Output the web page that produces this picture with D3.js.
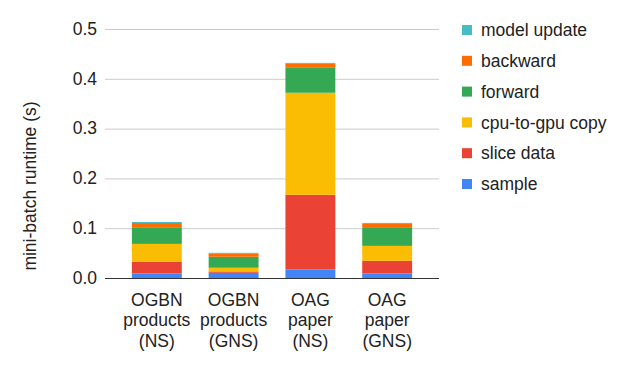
<!DOCTYPE html>
<html><head><meta charset="utf-8">
<script src="https://cdn.jsdelivr.net/npm/d3@7"></script>
<style>body{margin:0;background:#fff}svg{display:block;font-family:"Liberation Sans",Arial,sans-serif}</style>
</head><body><svg id="c" width="629" height="371"></svg>
<script>
const categories = [["OGBN","products","(NS)"],["OGBN","products","(GNS)"],["OAG","paper","(NS)"],["OAG","paper","(GNS)"]];
const seriesNames = ["sample","slice data","cpu-to-gpu copy","forward","backward","model update"];
const seriesColors = ["#4285F4","#EA4335","#FBBC04","#34A853","#FF6D01","#46BDC6"];
const sample      = [0.009, 0.0105, 0.017, 0.009];
const sliceData   = [0.0235, 0.0027, 0.150, 0.0255];
const cpuToGpu    = [0.036, 0.0074, 0.205, 0.030];
const forward     = [0.0334, 0.022, 0.050, 0.0375];
const backward    = [0.0085, 0.006, 0.008, 0.0066];
const modelUpdate = [0.002, 0.002, 0.002, 0.002];
const yTicks = [0, 0.1, 0.2, 0.3, 0.4, 0.5];

(function(){
const seriesValues = [sample, sliceData, cpuToGpu, forward, backward, modelUpdate];
const rows = categories.map((c,i)=>{const r={key:i}; seriesNames.forEach((s,j)=>r[s]=seriesValues[j][i]); return r;});
const stack = d3.stack().keys(seriesNames)(rows);

const svg = d3.select("#c");
const pL=105,pR=439,pT=29,pB=278;
const x = d3.scaleBand().domain(categories.map((c,i)=>i)).range([pL,pR]).paddingInner(0.35).paddingOuter(0.35);
const y = d3.scaleLinear().domain([0,0.5]).range([pB,pT]);
const fs = 17.5;

const yAxis = d3.axisLeft(y).tickValues(yTicks).tickFormat(d3.format(".1f")).tickSize(-(pR-pL)).tickPadding(8);
const ga = svg.append("g").attr("transform",`translate(${pL},0)`).call(yAxis);
ga.select(".domain").remove();
ga.selectAll(".tick line").attr("stroke",d=>d===0?"#333":"#ccc").attr("stroke-width",1);
ga.selectAll(".tick text").attr("font-size",fs).attr("fill","#222").attr("font-family","Liberation Sans, Arial, sans-serif").attr("dy","0.3em").attr("x",-8);

svg.append("g").selectAll("g").data(stack).join("g").attr("fill",(d,i)=>seriesColors[i])
  .selectAll("rect").data(d=>d).join("rect")
  .attr("x",d=>x(d.data.key)).attr("width",x.bandwidth())
  .attr("y",d=>y(d[1])).attr("height",d=>y(d[0])-y(d[1]));

svg.append("line").attr("x1",pL).attr("x2",pR).attr("y1",y(0)+0.5).attr("y2",y(0)+0.5).attr("stroke","#333").attr("stroke-width",1);

const xl = svg.append("g");
categories.forEach((c,i)=>{
  const t = xl.append("text").attr("text-anchor","middle").attr("font-size",fs).attr("fill","#222");
  c.forEach((line,k)=>t.append("tspan").attr("x",x(i)+x.bandwidth()/2).attr("y",305.5+k*20.5).text(line));
});

svg.append("text").attr("transform","translate(36,186) rotate(-90)").attr("text-anchor","middle")
  .attr("font-size",fs).attr("fill","#222").text("mini-batch runtime (s)");

const legendOrder = seriesNames.map((s,i)=>i).reverse();
const lg = svg.append("g");
legendOrder.forEach((si,k)=>{
  const cy = 30 + k*30.8;
  lg.append("rect").attr("x",462).attr("y",cy-5).attr("width",10).attr("height",10).attr("fill",seriesColors[si]);
  lg.append("text").attr("x",481).attr("y",cy+6.2).attr("font-size",fs).attr("fill","#222").text(seriesNames[si]);
});
})();
</script></body></html>
